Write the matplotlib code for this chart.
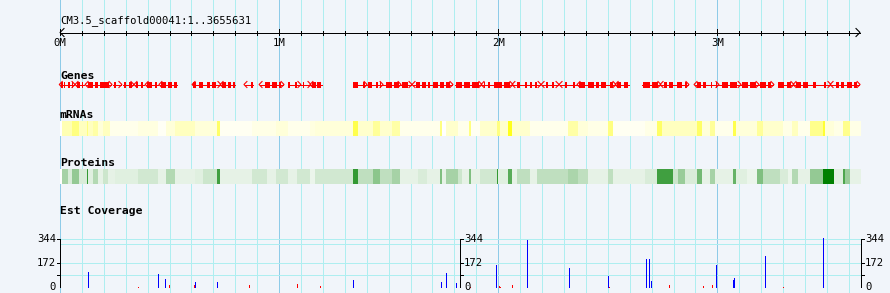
import numpy as np
import matplotlib
matplotlib.use("Agg")
import matplotlib.pyplot as plt

# ---------------- data ----------------
seq_title = "CM3.5_scaffold00041:1..3655631"
seq_len_kb = 3655.631
ruler_label_kb = [0, 1000, 2000, 3000]
ruler_labels = ["0M", "1M", "2M", "3M"]
grid_step_kb = 100

track_names = ["Genes", "mRNAs", "Proteins", "Est Coverage"]

gene_start = [1, 32, 73, 119, 183, 242, 288, 342, 393, 456, 607, 666, 735, 844, 913, 968,
              1041, 1100, 1145, 1337, 1401, 1474, 1556, 1611, 1698, 1803, 1926, 1976, 2067,
              2109, 2200, 2240, 2282, 2364, 2469, 2538, 2656, 2743, 2811, 2898, 2957, 3008,
              3108, 3190, 3277, 3350, 3428, 3519, 3587]
gene_end = [27, 64, 110, 178, 233, 278, 333, 383, 447, 534, 662, 730, 799, 881, 963, 1018,
            1095, 1141, 1196, 1397, 1470, 1552, 1602, 1693, 1789, 1921, 1972, 2063, 2104,
            2191, 2236, 2273, 2360, 2465, 2533, 2597, 2738, 2807, 2866, 2953, 3003, 3104,
            3186, 3254, 3345, 3423, 3514, 3583, 3647]
gene_strand = [-1, 1, -1, -1, 1, 1, 1, -1, -1, -1, -1, 1, -1, -1, -1, 1,
               1, 1, -1, 1, 1, 1, 1, -1, 1, 1, -1, 1, -1,
               1, -1, 1, -1, -1, 1, -1, 1, -1, 1, -1, 1, 1,
               1, 1, 1, -1, 1, -1, 1]

exon_start = [5, 19, 37, 55, 78, 100, 128, 160, 183, 246, 292, 315, 347, 370, 397, 434,
              461, 493, 520, 607, 634, 671, 694, 739, 767, 790, 872, 936, 968, 999,
              1041, 1073, 1109, 1150, 1173, 1337, 1383, 1406, 1442, 1460, 1488, 1524,
              1561, 1625, 1652, 1680, 1702, 1734, 1762, 1807, 1844, 1880, 1935, 1953,
              1981, 2026, 2086, 2122, 2145, 2168, 2218, 2245, 2305, 2341, 2369, 2410,
              2446, 2469, 2510, 2542, 2574, 2661, 2702, 2757, 2779, 2816, 2853, 2907,
              2935, 2971, 2994, 3021, 3058, 3113, 3149, 3195, 3231, 3277, 3318, 3359,
              3391, 3437, 3487, 3542, 3564, 3592, 3624]
exon_end = [14, 25, 46, 59, 91, 105, 151, 173, 224, 256, 301, 329, 356, 379, 420, 443,
            484, 511, 534, 621, 653, 685, 712, 758, 780, 799, 881, 958, 990, 1009,
            1050, 1082, 1114, 1168, 1191, 1360, 1392, 1424, 1451, 1465, 1515, 1547,
            1588, 1643, 1670, 1689, 1725, 1753, 1780, 1835, 1871, 1912, 1940, 1963,
            2017, 2054, 2099, 2131, 2154, 2177, 2227, 2255, 2314, 2350, 2396, 2437,
            2460, 2492, 2524, 2560, 2592, 2693, 2729, 2770, 2798, 2839, 2862, 2926,
            2948, 2976, 2999, 3049, 3090, 3140, 3177, 3222, 3245, 3304, 3336, 3382,
            3414, 3450, 3496, 3556, 3578, 3615, 3637]

density_edges_kb = [0, 9, 37, 55, 87, 123, 128, 151, 173, 196, 219, 228, 251, 356, 447, 484,
                    525, 616, 653, 717, 730, 876, 945, 986, 1041, 1082, 1141, 1164, 1337,
                    1360, 1429, 1460, 1515, 1552, 1634, 1675, 1734, 1743, 1762, 1816, 1835,
                    1867, 1876, 1917, 1994, 1999, 2008, 2045, 2063, 2086, 2145, 2177, 2319,
                    2364, 2410, 2501, 2524, 2670, 2725, 2748, 2798, 2821, 2853, 2907, 2930,
                    2967, 2989, 3072, 3085, 3136, 3181, 3209, 3286, 3300, 3323, 3341, 3368,
                    3423, 3482, 3491, 3533, 3574, 3583, 3606, 3656]
mrna_density = [0.0, 0.3, 0.3, 0.5, 0.25, 0.5, 0.25, 0.35, 0.15, 0.25, 0.25, 0.08, 0.08,
                0.12, 0.04, 0.15, 0.25, 0.15, 0.15, 0.6, 0.05, 0.1, 0.1, 0.15, 0.08, 0.08,
                0.12, 0.15, 0.7, 0.2, 0.4, 0.2, 0.35, 0.08, 0.08, 0.08, 0.5, 0.0, 0.2,
                0.08, 0.08, 0.5, 0.05, 0.2, 0.5, 0.5, 0.2, 0.9, 0.2, 0.2, 0.08, 0.08,
                0.35, 0.15, 0.1, 0.5, 0.05, 0.1, 0.6, 0.25, 0.25, 0.25, 0.25, 0.6, 0.15,
                0.4, 0.08, 0.7, 0.15, 0.15, 0.4, 0.2, 0.2, 0.1, 0.1, 0.25, 0.08, 0.45,
                0.8, 0.15, 0.1, 0.45, 0.45, 0.1]
protein_density = [0.0, 0.35, 0.15, 0.42, 0.15, 0.8, 0.12, 0.3, 0.1, 0.2, 0.1, 0.1, 0.12,
                   0.18, 0.1, 0.3, 0.1, 0.12, 0.2, 0.75, 0.1, 0.18, 0.1, 0.18, 0.1, 0.18,
                   0.08, 0.18, 0.8, 0.25, 0.45, 0.25, 0.35, 0.1, 0.15, 0.1, 0.5, 0.1, 0.35,
                   0.2, 0.1, 0.5, 0.1, 0.18, 0.8, 0.12, 0.12, 0.65, 0.1, 0.25, 0.1, 0.25,
                   0.33, 0.25, 0.1, 0.25, 0.1, 0.15, 0.75, 0.75, 0.2, 0.4, 0.15, 0.55, 0.1,
                   0.35, 0.1, 0.6, 0.12, 0.08, 0.5, 0.25, 0.15, 0.15, 0.08, 0.3, 0.1, 0.42,
                   1.0, 1.0, 0.12, 0.7, 0.4, 0.1]

cov_pos_kb = [129, 357, 449, 481, 499, 613, 618, 718, 864, 1083, 1188, 1339, 1740, 1763,
              1809, 1871, 1991, 2005, 2010, 2064, 2133, 2324, 2502, 2507, 2676, 2690, 2699,
              2781, 2936, 2974, 2995, 3073, 3077, 3219, 3301, 3484]
cov_value = [112, 5, 97, 60, 16, 15, 38, 38, 16, 26, 9, 52, 38, 105,
             31, 6, 160, 12, 6, 16, 339, 138, 81, 6, 203, 203, 47,
             16, 9, 16, 160, 52, 67, 224, 6, 350]
cov_strand = ["+", "-", "+", "+", "-", "-", "+", "+", "-", "-", "-", "+", "+", "+",
              "+", "-", "+", "-", "-", "-", "+", "+", "+", "-", "+", "+", "+",
              "-", "-", "-", "+", "+", "+", "+", "-", "+"]
cov_ticks = [0, 172, 344]
cov_minor_ticks = [86]
cov_extra_grid = [308]
cov_axis_kb = [0, 1826, 3655.631]
cov_axis_side = [-1, 1, 1]

# ---------------- style / layout ----------------
W, H, DPI = 890, 293, 100
BG = "#f1f5fa"
MINOR_GRID = "#aeeef0"
MAJOR_GRID = "#8ecbe8"
PX = 1.0 * 72 / DPI          # one pixel in points
px_per_kb = 801.0 / seq_len_kb
x0_px = 60.0
def kb(px):                   # pixel length -> kb length (layout helper)
    return px / px_per_kb

MONO = "DejaVu Sans Mono"
plt.rcParams["font.family"] = MONO

fig = plt.figure(figsize=(W / DPI, H / DPI), dpi=DPI, facecolor=BG)
ax = fig.add_axes([0, 0, 1, 1])
ax.set_xlim(-kb(x0_px), kb(W - x0_px))
ax.set_ylim(H, 0)
ax.set_facecolor(BG)
ax.axis("off")

# vertical grid
grid_x = np.arange(0, seq_len_kb, grid_step_kb)
for g in grid_x:
    major = (round(g) % 1000 == 0)
    ax.vlines(g, 0, H, color=MAJOR_GRID if major else MINOR_GRID, lw=PX,
              antialiased=False, zorder=0)

# ruler
RY = 32.5
ARW = 1.1 * PX
ax.hlines(RY, 0, seq_len_kb - kb(1), color="black", lw=PX, antialiased=False, zorder=3)
for g in grid_x:
    major = (round(g) % 1000 == 0)
    ax.vlines(g, (28.5 if major else 30.5), 34.5, color="black", lw=PX,
              antialiased=False, zorder=3)
ax.plot([kb(4), 0, kb(4)], [RY - 4, RY, RY + 4], color="black", lw=ARW, zorder=3,
        solid_joinstyle="miter")
tip = seq_len_kb - kb(1)
ax.plot([tip - kb(4), tip, tip - kb(4)], [RY - 4, RY, RY + 4], color="black", lw=ARW,
        zorder=3, solid_joinstyle="miter")
for p, lab in zip(ruler_label_kb, ruler_labels):
    ax.text(p, 42.5, lab, ha="center", va="center", fontsize=7.6, zorder=4)
ax.text(0, 21, seq_title, ha="left", va="center", fontsize=7.6, zorder=4)

# track labels
label_y = [76, 115, 163, 211]
for name, y in zip(track_names, label_y):
    ax.text(0, y, name, ha="left", va="center", fontsize=8.2, fontweight="bold", zorder=4)

# genes
GY = 84.5
RED = "#ff0000"
for s, e, st in zip(gene_start, gene_end, gene_strand):
    ax.hlines(GY, s, e, color=RED, lw=PX, antialiased=False, zorder=3)
    if st > 0:
        ax.plot([e + kb(1) - kb(3), e + kb(1), e + kb(1) - kb(3)],
                [GY - 3, GY, GY + 3], color=RED, lw=ARW, zorder=3, solid_joinstyle="miter")
    else:
        ax.plot([s - kb(1) + kb(3), s - kb(1), s - kb(1) + kb(3)],
                [GY - 3, GY, GY + 3], color=RED, lw=ARW, zorder=3, solid_joinstyle="miter")
ex_s = np.array(exon_start, float)
ex_e = np.array(exon_end, float)
ax.bar(ex_s, 6, width=np.maximum(ex_e - ex_s, kb(1)), bottom=GY - 3, align="edge",
       color=RED, linewidth=0, antialiased=False, zorder=3)

# density tracks
edges = np.array(density_edges_kb, float)
left = edges[:-1]
width = np.diff(edges)
m = np.array(mrna_density)
p = np.array(protein_density)
mcol = np.stack([np.ones_like(m), np.ones_like(m), 1 - m], axis=1)
pcol = np.stack([1 - p, 1 - 0.5 * p, 1 - p], axis=1)
ax.bar(left, 15, width=width, bottom=121, align="edge", color=mcol, linewidth=0,
       antialiased=False, zorder=2)
ax.bar(left, 15, width=width, bottom=169, align="edge", color=pcol, linewidth=0,
       antialiased=False, zorder=2)

# coverage
base_row = 287.5
top_row = 230.0
row_344 = 239.0
cov_top = 344 * (base_row - top_row) / (base_row - row_344)
cax = fig.add_axes([0, (H - base_row) / H, 1, (base_row - top_row) / H])
cax.set_xlim(ax.get_xlim())
cax.set_ylim(0, cov_top)
cax.patch.set_alpha(0)
cax.axis("off")
cax.hlines(cov_ticks[1:] + cov_minor_ticks + cov_extra_grid, 0, seq_len_kb,
           color=MINOR_GRID, lw=PX, antialiased=False, zorder=1)
cax.hlines(0, 0, seq_len_kb, color=MAJOR_GRID, lw=PX, antialiased=False, zorder=1)
ccol = ["#0000ff" if s == "+" else "#ff0000" for s in cov_strand]
cax.vlines(cov_pos_kb, 0, cov_value, colors=ccol, lw=PX, antialiased=False, zorder=3)
for xa, side in zip(cov_axis_kb, cov_axis_side):
    cax.vlines(xa, 0, 344, color="black", lw=PX, antialiased=False, zorder=4)
    for t in cov_ticks + cov_minor_ticks:
        cax.hlines(t, xa, xa + side * kb(3), color="black", lw=PX, antialiased=False, zorder=4)
    for t in cov_ticks:
        cax.text(xa + side * kb(4), t, str(t), ha="right" if side < 0 else "left",
                 va="center", fontsize=7.6, zorder=5)

fig.savefig("out.png", dpi=DPI, facecolor=BG)
